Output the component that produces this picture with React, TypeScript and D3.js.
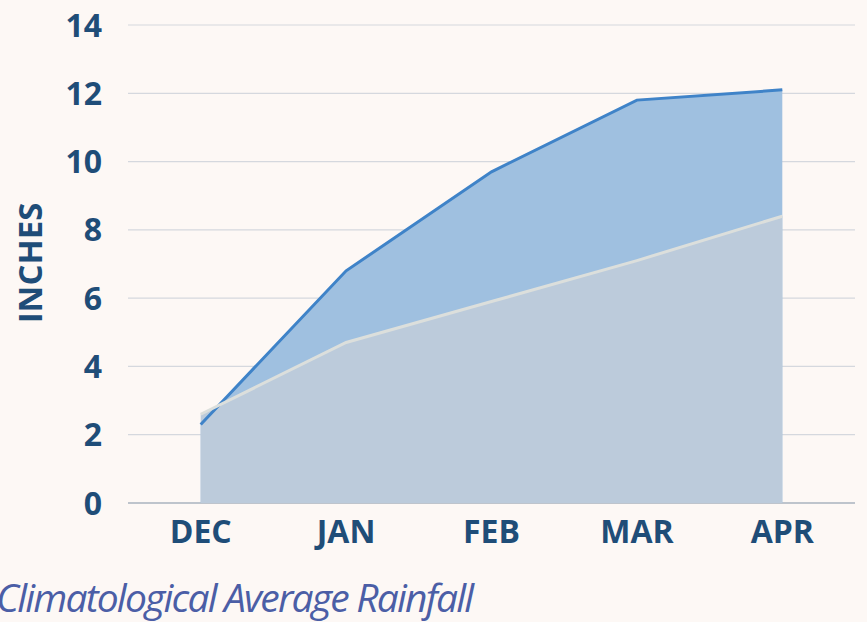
import React from "react";
import * as d3 from "d3";

const months = ["DEC", "JAN", "FEB", "MAR", "APR"];
const totalRain = [2.3, 6.8, 9.7, 11.8, 12.1];
const averageRain = [2.6, 4.7, 5.9, 7.1, 8.4];
const yTicks = [0, 2, 4, 6, 8, 10, 12, 14];

const App = () => {
  const width = 867;
  const height = 622;
  const left = 128;
  const right = 855;
  const top = 25;
  const bottom = 503;

  const x = d3.scaleBand().domain(months).range([left, right]);
  const y = d3.scaleLinear().domain([0, 14]).range([bottom, top]);
  const cx = (m: string) => (x(m) as number) + x.bandwidth() / 2;

  const area = d3
    .area<number>()
    .x((_, i) => cx(months[i]))
    .y0(bottom)
    .y1((d) => y(d));
  const line = d3
    .line<number>()
    .x((_, i) => cx(months[i]))
    .y((d) => y(d));

  const navy = "#1f4d78";

  return (
    <svg
      width={width}
      height={height}
      style={{ position: "absolute", left: 0, top: 0, background: "#fdf8f5" }}
      fontFamily="'Open Sans', sans-serif"
    >
      {yTicks.map((t) => (
        <g key={t}>
          <line x1={left} x2={right} y1={y(t)} y2={y(t)} stroke={t === 0 ? "#a9b3be" : "#d5d8de"} strokeWidth={t === 0 ? 1.5 : 1.2} />
          <text x={102} y={y(t)} dy="0.36em" textAnchor="end" fontSize={32} fontWeight={700} fill={navy}>
            {t}
          </text>
        </g>
      ))}

      <path d={area(totalRain) ?? ""} fill="#9fc0e0" />
      <path d={area(averageRain) ?? ""} fill="#bccbdb" />
      <path d={line(totalRain) ?? ""} fill="none" stroke="#3f83c8" strokeWidth={3} />
      <path d={line(averageRain) ?? ""} fill="none" stroke="#dcdfdc" strokeWidth={3} />

      {months.map((m) => (
        <text key={m} x={cx(m)} y={531} dy="0.36em" textAnchor="middle" fontSize={32} fontWeight={700} fill={navy}>
          {m}
        </text>
      ))}

      <text
        transform={`translate(30,263) rotate(-90)`}
        dy="0.36em"
        textAnchor="middle"
        fontSize={33}
        fontWeight={700}
        fill={navy}
      >
        INCHES
      </text>

      <text x={-4} y={612} fontSize={39} fontStyle="italic" fill="#4b5ea6" letterSpacing={-1.8}>
        Climatological Average Rainfall
      </text>
    </svg>
  );
};

export default App;
